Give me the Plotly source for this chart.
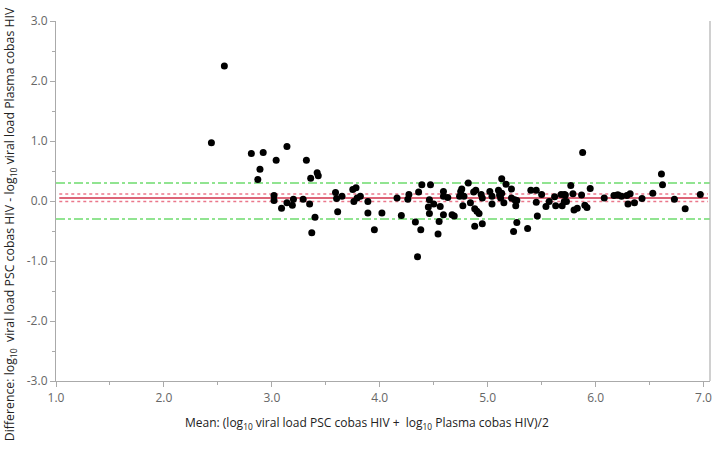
import plotly.graph_objects as go

x_mean = [2.44, 2.56, 2.81, 2.92, 3.14, 2.89, 3.04, 2.87, 3.32, 3.36, 3.42, 3.43,
          3.02, 3.02, 3.09, 3.14, 3.20, 3.19, 3.29, 3.35, 3.59, 3.60, 3.65, 3.40,
          3.37, 3.61, 3.75, 3.78, 3.76, 3.79, 3.82, 3.89, 3.89, 3.95, 4.02, 4.16,
          4.27, 4.26, 4.20, 4.33, 4.36, 4.39, 4.47, 4.38, 4.35, 4.46, 4.45, 4.50,
          4.46, 4.54, 4.55, 4.56, 4.59, 4.59, 4.63, 4.59, 4.67, 4.69, 4.75, 4.76,
          4.74, 4.78, 4.77, 4.82, 4.84, 4.87, 4.89, 4.88, 4.90, 4.92, 4.88, 4.95,
          4.94, 4.95, 5.02, 5.04, 5.04, 5.10, 5.13, 5.11, 5.13, 5.12, 5.15, 5.17,
          5.22, 5.22, 5.25, 5.27, 5.26, 5.27, 5.24, 5.37, 5.40, 5.45, 5.45, 5.50,
          5.46, 5.54, 5.57, 5.62, 5.63, 5.68, 5.71, 5.72, 5.69, 5.71, 5.73, 5.77,
          5.79, 5.80, 5.83, 5.87, 5.88, 5.90, 5.92, 5.95, 6.08, 6.17, 6.20, 6.21,
          6.24, 6.30, 6.29, 6.32, 6.36, 6.43, 6.53, 6.61, 6.62, 6.73, 6.83, 6.97]
y_diff = [0.97, 2.25, 0.79, 0.81, 0.91, 0.53, 0.68, 0.36, 0.68, 0.38, 0.47, 0.42,
          0.09, 0.01, -0.12, -0.03, 0.03, -0.07, 0.03, -0.05, 0.14, 0.04, 0.08, -0.27,
          -0.53, -0.18, 0.19, 0.22, -0.01, 0.05, 0.08, -0.01, -0.20, -0.48, -0.20, 0.05,
          0.11, 0.03, -0.24, -0.35, 0.15, 0.27, 0.27, -0.48, -0.93, 0.02, -0.10, -0.05,
          -0.21, -0.55, -0.34, -0.09, 0.16, 0.08, 0.06, -0.23, -0.23, -0.25, 0.16, 0.20,
          0.08, 0.08, -0.08, 0.30, -0.03, 0.15, 0.18, -0.13, -0.17, -0.21, -0.42, -0.38,
          0.11, 0.05, 0.16, 0.08, -0.05, 0.18, 0.13, 0.10, 0.37, 0.05, -0.03, 0.28,
          0.20, 0.05, 0.02, 0.01, -0.08, -0.36, -0.51, -0.46, 0.18, 0.18, -0.02, 0.11,
          -0.25, -0.09, -0.01, 0.07, -0.08, 0.11, 0.11, 0.10, -0.08, -0.01, -0.01, 0.26,
          0.12, -0.15, -0.12, 0.10, 0.81, -0.07, -0.11, 0.21, 0.05, 0.09, 0.10, 0.10,
          0.08, -0.05, 0.09, 0.12, -0.03, 0.04, 0.13, 0.45, 0.27, 0.03, -0.13, 0.11]

mean_diff = 0.05
ci_limits = [0.117, -0.007]
loa_limits = [0.30, -0.30]

x_ticks = [1.0, 2.0, 3.0, 4.0, 5.0, 6.0, 7.0]
y_ticks = [-3.0, -2.0, -1.0, 0.0, 1.0, 2.0, 3.0]

fig = go.Figure()
fig.add_trace(go.Scatter(x=x_mean, y=y_diff, mode="markers",
                         marker=dict(color="black", size=7, line=dict(width=0)),
                         showlegend=False, hoverinfo="skip"))

shapes = []
for v in loa_limits:
    shapes.append(dict(type="line", xref="paper", x0=0, x1=1, yref="y", y0=v, y1=v,
                       line=dict(color="rgb(110,220,110)", width=1.5, dash="dashdot"), layer="below"))
for v in ci_limits:
    shapes.append(dict(type="line", xref="paper", x0=0.005, x1=0.997, yref="y", y0=v, y1=v,
                       line=dict(color="rgb(235,120,140)", width=1.5, dash="dot"), layer="below"))
shapes.append(dict(type="line", xref="paper", x0=0.005, x1=0.997, yref="y", y0=mean_diff, y1=mean_diff,
                   line=dict(color="rgb(210,50,75)", width=1.5), layer="below"))
shapes.append(dict(type="line", xref="paper", x0=1, x1=1, yref="paper", y0=0, y1=1,
                   line=dict(color="#b0b0b0", width=1.2)))
fig.update_layout(shapes=shapes)

font_fam = "Open Sans, Noto Sans, sans-serif"
fig.update_layout(
    width=720, height=449,
    margin=dict(l=56, r=8, t=21, b=68),
    paper_bgcolor="white", plot_bgcolor="white",
    font=dict(family=font_fam, color="#555555", size=12),
    xaxis=dict(range=[1.0, 7.06], tickvals=x_ticks, ticktext=[f"{v:.1f}" for v in x_ticks],
               showgrid=False, zeroline=False, showline=True, linecolor="#aaaaaa", linewidth=1.2,
               ticks="outside", ticklen=5, tickcolor="#aaaaaa", ticklabeloverflow="allow",
               minor=dict(dtick=0.5, tick0=1.0, ticks="outside", ticklen=3, tickcolor="#aaaaaa", showgrid=False),
               tickfont=dict(size=12, color="#666666")),
    yaxis=dict(range=[-3.0, 3.0], tickvals=y_ticks, ticktext=[f"{v:.1f}" for v in y_ticks],
               showgrid=False, zeroline=False, showline=True, linecolor="#aaaaaa", linewidth=1.2,
               ticks="outside", ticklen=5, tickcolor="#aaaaaa",
               minor=dict(dtick=0.5, tick0=0, ticks="outside", ticklen=3, tickcolor="#aaaaaa", showgrid=False),
               tickfont=dict(size=12, color="#666666")),
    annotations=[
        dict(text="Mean: (log<sub>10</sub> viral load PSC cobas HIV +  log<sub>10</sub> Plasma cobas HIV)/2",
             xref="paper", yref="paper", x=0.475, y=-0.085, xanchor="center", yanchor="top",
             showarrow=False, font=dict(size=12, color="#222222", family=font_fam)),
        dict(text="Difference: log<sub>10</sub>  viral load PSC cobas HIV - log<sub>10</sub> viral load Plasma cobas HIV",
             xref="paper", yref="paper", x=-0.07, y=0.436, xanchor="center", yanchor="middle",
             textangle=-90, showarrow=False, font=dict(size=12.3, color="#222222", family=font_fam)),
    ],
)

fig.write_html("out.html", config={"displayModeBar": False},
               post_script="document.body.style.margin='0';")
